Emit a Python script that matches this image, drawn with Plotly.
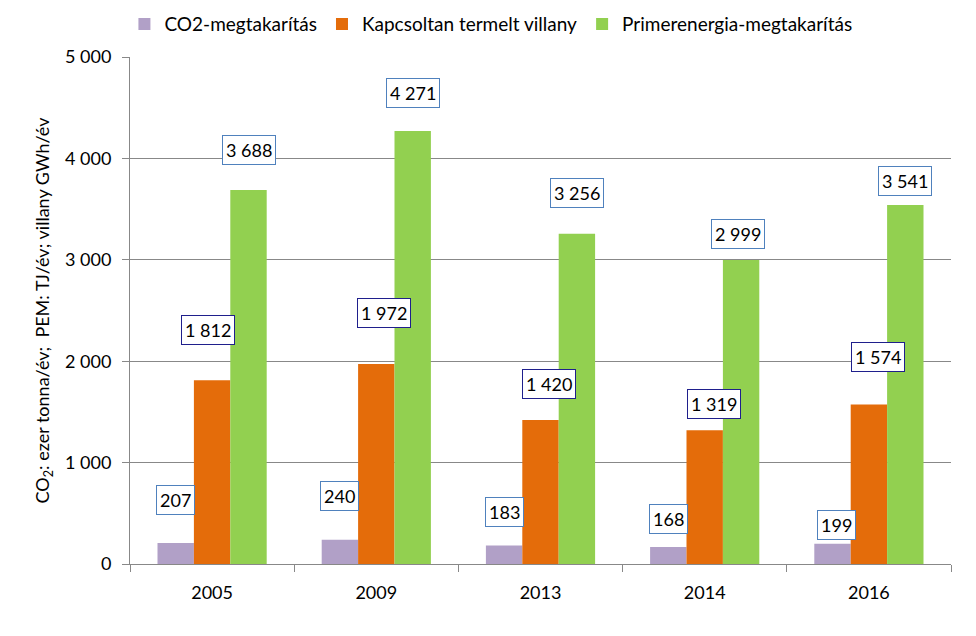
import plotly.graph_objects as go

years = ["2005", "2009", "2013", "2014", "2016"]
co2 = [207, 240, 183, 168, 199]
villany = [1812, 1972, 1420, 1319, 1574]
pem = [3688, 4271, 3256, 2999, 3541]
series_names = ["CO2-megtakarítás", "Kapcsoltan termelt villany", "Primerenergia-megtakarítás"]
tick_vals = [0, 1000, 2000, 3000, 4000, 5000]
tick_text = ["0", "1 000", "2 000", "3 000", "4 000", "5 000"]

colors = ["#B1A0C7", "#E46C0A", "#92D050"]
label_borders = ["#4F81BD", "#1F1F8C", "#4F81BD"]
# label placement (pixels above bar top, horizontal nudge)
label_dy = [[43, 44, 33, 28, 19], [50, 51, 36, 26, 47], [40, 38, 41, 26, 24]]
label_dx = [[0, 0, 0, 0, 4], [-4, 8, 8, 9, 9], [0, 0, 0, -3, 0]]
group_offset = [-36.5, 0, 36.5]

def fmt(v):
    return f"{v:,}".replace(",", " ")

FONT = "Lato, Open Sans, sans-serif"

fig = go.Figure()
all_series = [co2, villany, pem]
for name, vals, col in zip(series_names, all_series, colors):
    fig.add_trace(go.Bar(x=years, y=vals, name=name, marker_color=col, marker_line_width=0))

for si, vals in enumerate(all_series):
    for i, v in enumerate(vals):
        fig.add_annotation(
            x=i, y=v, xref="x", yref="y",
            text=fmt(v), showarrow=False,
            xshift=group_offset[si] + label_dx[si][i],
            yshift=label_dy[si][i],
            font=dict(family=FONT, size=18, color="#000000"),
            bgcolor="#FFFFFF", bordercolor=label_borders[si], borderwidth=1, borderpad=3,
        )

fig.update_layout(
    width=976, height=636,
    margin=dict(l=130, r=25, t=57, b=72, autoexpand=False),
    paper_bgcolor="#FFFFFF", plot_bgcolor="#FFFFFF",
    barmode="group", bargap=0.335, bargroupgap=0,
    font=dict(family=FONT, size=16, color="#000000"),
    legend=dict(orientation="h", x=0.503, xanchor="center", y=0.962, yanchor="middle",
                yref="container", xref="container",
                font=dict(size=19), traceorder="normal"),
    showlegend=True,
)
fig.update_xaxes(
    type="category", range=[-0.5, 4.5], showline=True, linecolor="#888888", linewidth=1,
    ticks="outside", tickson="boundaries", ticklen=7, tickcolor="#888888",
    tickfont=dict(size=18), showgrid=False, ticklabelstandoff=12,
)
fig.update_yaxes(
    range=[0, 5000], tickvals=tick_vals, ticktext=tick_text,
    showline=True, linecolor="#888888", linewidth=1,
    ticks="outside", ticklen=7, tickcolor="#888888",
    showgrid=True, gridcolor="#888888", gridwidth=1,
    tickfont=dict(size=18), zeroline=False, ticklabelstandoff=7,
    title=dict(text="CO<sub>2</sub>: ezer tonna/év;  PEM: TJ/év; villany GWh/év",
               font=dict(size=18), standoff=10),
)

fig.write_html("out.html")
